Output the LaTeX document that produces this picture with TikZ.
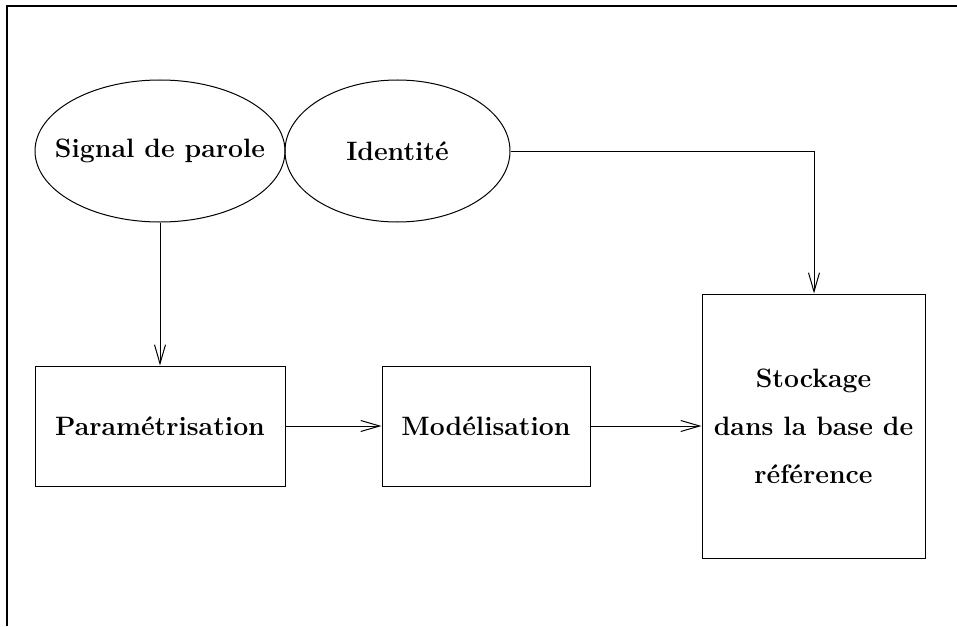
\documentclass[tikz,border=0pt]{standalone}
\usepackage{fontspec}
\usetikzlibrary{shapes.geometric,arrows.meta}
\begin{document}
\begin{tikzpicture}[x=0.5pt,y=-0.5pt,
  every node/.style={font=\fontsize{13.3}{24}\selectfont\bfseries, inner sep=0pt, line width=0.5pt},
  oval/.style={draw, ellipse, minimum width=125pt, minimum height=71pt},
  blk/.style={draw, rectangle},
  arr/.style={line width=0.5pt, -{Straight Barb[length=9.5pt,width=5.5pt,line width=0.5pt]}}]
\useasboundingbox (0,0) rectangle (957,626);
\draw[line width=0.6pt] (7,626) -- (7,6) -- (957,6);
\node[oval, label=center:{Signal de parole}] (sig) at (160,151) {};
\node[oval, minimum width=112.5pt, label=center:{Identité}] (id) at (397.5,151) {};
\node[blk, minimum width=125pt, minimum height=60pt] (par) at (160,426) {Paramétrisation};
\node[blk, minimum width=104pt, minimum height=60pt] (mod) at (486,426) {Modélisation};
\node[blk, minimum width=111.5pt, minimum height=132pt, align=center] (sto) at (813.5,426) {Stockage\\dans la base de\\référence};
\coordinate (corner) at (814,151);
\draw[arr] (sig.south) -- (par.north);
\draw[arr] (id.east) -- (corner) -- (corner |- sto.north);
\draw[arr] (par.east) -- (mod.west);
\draw[arr] (mod.east) -- (sto.west);
\end{tikzpicture}
\end{document}
